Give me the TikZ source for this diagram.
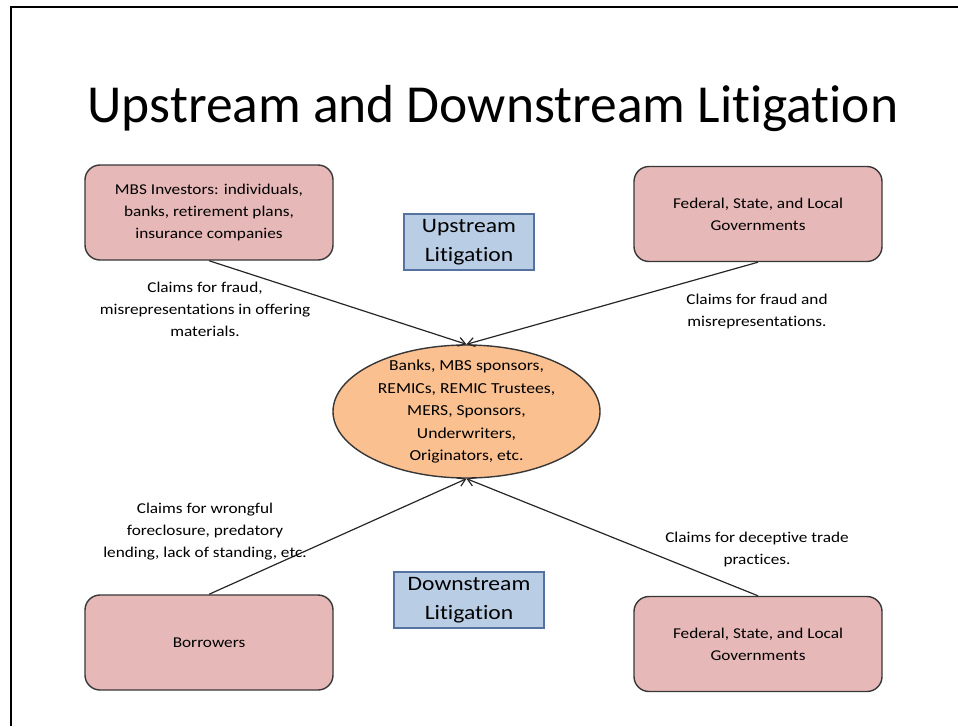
\documentclass[tikz,border=0pt]{standalone}
\usepackage{fontspec}
\setmainfont[Ligatures=NoCommon]{Carlito}
\newfontfamily\slidefont[FakeStretch=1.15,Ligatures=NoCommon]{Carlito}
\usetikzlibrary{shapes,arrows.meta,positioning}
\definecolor{partypink}{RGB}{230,185,184}
\definecolor{hubpeach}{RGB}{250,192,144}
\definecolor{tagblue}{RGB}{185,205,229}
\definecolor{tagedge}{RGB}{85,115,160}
\definecolor{edgegray}{RGB}{55,55,55}
\tikzset{
    % Define slide node styles
    partybox/.style={
        rectangle, draw=edgegray, line width=1.4pt, fill=partypink,
        minimum width=248pt, minimum height=95pt,
        rounded corners=15pt, align=center,
        font=\slidefont\fontsize{15}{22}\selectfont
    },
    hubshape/.style={
        ellipse, draw=edgegray, line width=1.4pt, fill=hubpeach,
        minimum width=267pt, minimum height=133pt
    },
    hubtext/.style={
        align=center, inner sep=0pt,
        font=\slidefont\fontsize{15.3}{22.5}\selectfont
    },
    tagbox/.style={
        rectangle, draw=tagedge, line width=1.2pt, fill=tagblue,
        minimum height=56pt, align=center,
        font=\slidefont\fontsize{20.5}{29}\selectfont
    },
    claim/.style={
        align=center, inner sep=0pt,
        font=\slidefont\fontsize{15}{22}\selectfont
    },
    claimarrow/.style={
        -{Straight Barb[length=7pt,width=9pt]}, line width=1.2pt, color=black!85
    }
}

\begin{document}
\begin{tikzpicture}[x=1pt, y=-1pt]
\useasboundingbox (0,0) rectangle (958,726);

% Slide frame
\draw[line width=2.2pt] (11,726) -- (11,7) -- (958,7);

% Title
\node[anchor=base, font=\fontsize{53.5}{60}\selectfont] (title) at (493,122) {Upstream and Downstream Litigation};

% Defendants in the middle
\node[hubshape] (hub) at (466.5,411.5) {};
\node[hubtext] (hub_text) at (hub.center) {Banks, MBS sponsors,\\REMICs, REMIC Trustees,\\MERS, Sponsors,\\Underwriters,\\Originators, etc.};

% Plaintiffs
\node[partybox] (investors) at (209,212.5) {MBS Investors: individuals,\\banks, retirement plans,\\insurance companies};
\node[partybox] (gov_up) at (758,214) {Federal, State, and Local\\Governments};
\node[partybox] (borrowers) at (209,642.5) {Borrowers};
\node[partybox] (gov_down) at (758,644) {Federal, State, and Local\\Governments};

% Litigation tags
\node[tagbox, minimum width=130pt] (upstream) at (469,242) {Upstream\\Litigation};
\node[tagbox, minimum width=150pt] (downstream) at (469,600) {Downstream\\Litigation};

% Claims
\draw[claimarrow] (investors.south) -- (hub.north);
\draw[claimarrow] (gov_up.south) -- (hub.north);
\draw[claimarrow] (borrowers.north) -- (hub.south);
\draw[claimarrow] (gov_down.north) -- (hub.south);

\node[claim] (claim_investors) at (205,309) {Claims for fraud,\\misrepresentations in offering\\materials.};
\node[claim] (claim_gov_up) at (757,311) {Claims for fraud and\\misrepresentations.};
\node[claim] (claim_borrowers) at (205,532) {Claims for wrongful\\foreclosure, predatory\\lending, lack of standing, etc.};
\node[claim] (claim_gov_down) at (757,549) {Claims for deceptive trade\\practices.};

\end{tikzpicture}
\end{document}
